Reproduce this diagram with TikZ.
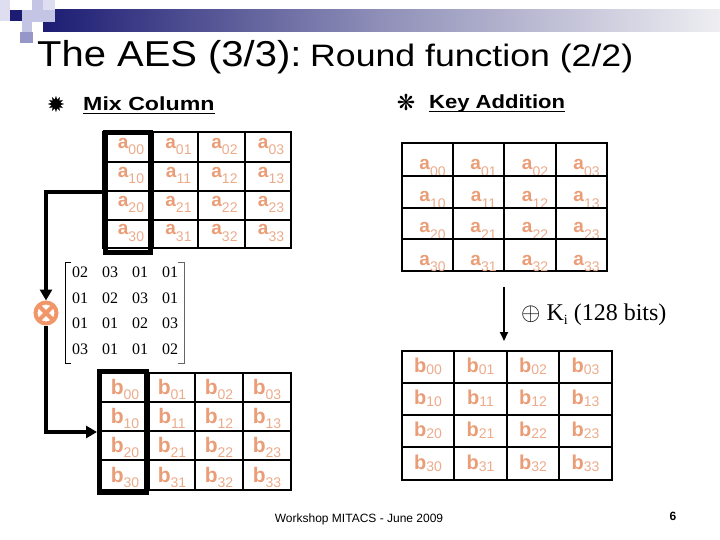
\documentclass[tikz,border=0pt]{standalone}
\usepackage{fontspec}
\setmainfont{Liberation Sans}
\newfontfamily\seriffont{Liberation Serif}
\newfontfamily\symfont{DejaVu Sans}
\usetikzlibrary{arrows.meta}
\definecolor{salm}{RGB}{234,158,120}
\definecolor{subc}{RGB}{236,172,140}
\definecolor{navyd}{RGB}{28,28,115}
\definecolor{barlt}{RGB}{238,238,242}
\definecolor{lav1}{RGB}{222,222,240}
\definecolor{lav2}{RGB}{196,196,228}
\definecolor{lav3}{RGB}{150,150,200}
\definecolor{orng}{RGB}{240,150,105}
\newcommand\drawgrid[9]{%
 \foreach \r in {0,...,3}{\foreach \c in {0,...,3}{%
   \pgfmathsetmacro\xl{{#2}[\c]}%
   \pgfmathsetmacro\xr{{#2}[\c+1]}%
   \pgfmathsetmacro\yt{{#3}[\r]}%
   \pgfmathsetmacro\yb{{#3}[\r+1]}%
   \pgfmathsetmacro\cw{\xr-\xl}%
   \pgfmathsetmacro\chh{\yb-\yt}%
   \node[cellbox, minimum width=\cw pt, minimum height=\chh pt] (#1-\r\c) at ({(\xl+\xr)/2},{(\yt+\yb)/2}) {};
   \node[celltext] (#1t-\r\c) at ([xshift=#8pt, yshift=#9pt]#1-\r\c.south) {\fontsize{#5}{#5}\selectfont\bfseries #4\raisebox{-#7pt}{\color{subc}\fontsize{#6}{#6}\selectfont\mdseries\r\c}};
 }}}
\tikzset{
  cellbox/.style={draw=black, line width=1.2pt, inner sep=0pt, outer sep=0pt},
  celltext/.style={anchor=base, inner sep=0pt, text=salm},
  thickcol/.style={draw=black, line width=5pt, inner sep=0pt, fill=none},
  mentry/.style={font=\seriffont\fontsize{16}{16}\selectfont, inner sep=0pt},
  bigarrow/.style={line width=4pt, -{Triangle[length=11pt,width=12pt]}},
}
\begin{document}
\begin{tikzpicture}[x=1pt,y=-1pt]
\useasboundingbox (0,0) rectangle (720,540);
\fill[white] (0,0) rectangle (720,540);
% header decoration
\shade[left color=navyd, right color=barlt, middle color=navyd!45!barlt] (43,10) rectangle (720,32);
\fill[lav1] (0,0) rectangle (10,10);
\fill[lav1] (0,10) rectangle (10,21);
\fill[navyd] (10,10) rectangle (22,21);
\fill[lav2] (22,10) rectangle (32,21);
\fill[lav2] (32,0) rectangle (55,22);
\fill[lav1] (43,0) rectangle (55,10);
\fill[lav2] (22,21) rectangle (32,32);
\fill[lav3] (20,32) rectangle (33,43);
% title
\node[anchor=base west, inner sep=0pt] (title1) at (37,67) {\fontsize{36}{36}\selectfont\scalebox{1.11}[1]{The AES (3/3):}};
\node[anchor=base west, inner sep=0pt] (title2) at (310,67) {\fontsize{31}{31}\selectfont\scalebox{1.15}[1]{Round function (2/2)}};
% bullets
\node[inner sep=0pt] (bul1) at (56,104) {\symfont\fontsize{22}{22}\selectfont ✹};
\node[anchor=base west, inner sep=0pt] (mix) at (83,111) {\fontsize{19}{19}\selectfont\bfseries\scalebox{1.22}[1]{Mix Column}};
\draw[line width=1.5pt] ([yshift=-2.5pt]mix.base west) -- ([yshift=-2.5pt]mix.base east);
\node[inner sep=0pt] (bul2) at (406,102) {\symfont\fontsize{22}{22}\selectfont ❋};
\node[anchor=base west, inner sep=0pt] (key) at (429,109) {\fontsize{19}{19}\selectfont\bfseries\scalebox{1.16}[1]{Key Addition}};
\draw[line width=1.5pt] ([yshift=-2.5pt]key.base west) -- ([yshift=-2.5pt]key.base east);
% grids
\drawgrid{la}{103,153,198,245,291}{132,162,191,220,248}{a}{19}{14}{6}{3}{13}
\drawgrid{lb}{101,149,195,243,291}{373,402,431,460,490}{b}{21}{14}{5}{0}{8}
\drawgrid{ra}{402,453,504,556,607}{143,176,208,239,271}{a}{19}{14}{6.5}{5}{6}
\drawgrid{rb}{402,454,507,559,612}{351,383,415,447,480}{b}{20}{14}{2.5}{0}{11}
% thick column boxes
\node[thickcol, minimum width=45pt, minimum height=120pt] (colA) at (128,192.5) {};
\node[thickcol, minimum width=47pt, minimum height=121pt] (colB) at (123,432) {};
% matrix
\foreach \row/\vals [count=\r from 0] in {0/{02,03,01,01},1/{01,02,03,01},2/{01,01,02,03},3/{03,01,01,02}}{
  \foreach \v [count=\c from 0] in \vals {
    \node[mentry] (m-\r\c) at ({80+30*\c},{272+25.8*\r}) {\v};
  }
}
\draw[line width=0.8pt] (71,262) -- (65.5,262) -- (65.5,363) -- (71,363);
\draw[line width=0.8pt, black!60] (178,262) -- (184.5,262) -- (184.5,363) -- (178,363);
% otimes
\node[circle, draw=orng, line width=4pt, minimum size=21pt, inner sep=0pt, fill=white] (otimes) at (46,313) {};
\draw[orng, line width=4pt] (otimes.center) +(45:9) -- +(225:9);
\draw[orng, line width=4pt] (otimes.center) +(135:9) -- +(315:9);
% connectors
\draw[bigarrow] (colA.west) -| (otimes.north);
\draw[bigarrow] (otimes.south) |- (colB.west);
\coordinate (ktop) at (504,287);
\coordinate (kbot) at (504,341);
\draw[line width=2pt, -{Triangle[length=9pt,width=8pt]}] (ktop) -- (kbot);
\node[anchor=base west, inner sep=0pt] (klabel) at (521,320) {\seriffont\fontsize{24}{24}\selectfont $\oplus$ K\raisebox{-4pt}{\fontsize{14}{14}\selectfont i} (128 bits)};
% footer
\node[anchor=base, inner sep=0pt] (footer) at (359,522) {\fontsize{12}{12}\selectfont Workshop MITACS - June 2009};
\node[anchor=base, inner sep=0pt] (pnum) at (673,520) {\fontsize{12}{12}\selectfont\bfseries 6};
\end{tikzpicture}
\end{document}
